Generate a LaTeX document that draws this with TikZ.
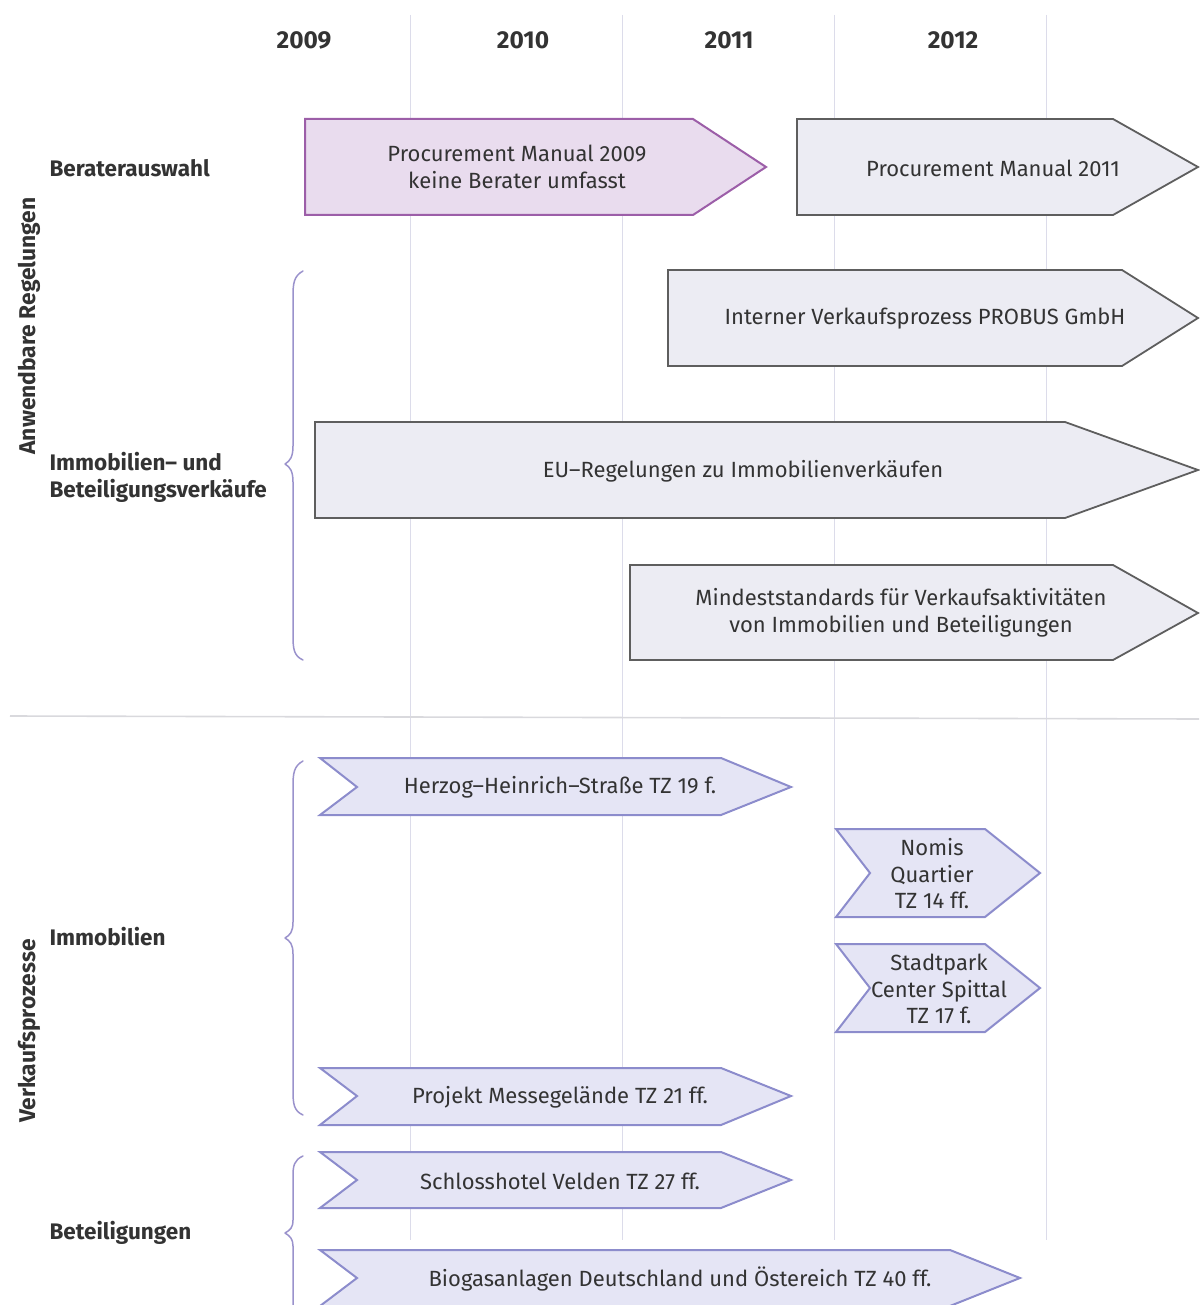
\documentclass[tikz,border=0pt]{standalone}
\usepackage{fontspec}
\setmainfont{Fira Sans}
\usetikzlibrary{calc}
\definecolor{txt}{HTML}{333333}
\definecolor{gridc}{HTML}{DCDCEA}
\definecolor{sepc}{HTML}{D9D9DD}
\definecolor{purfill}{HTML}{E9DCEE}
\definecolor{purdraw}{HTML}{9C5EA8}
\definecolor{grayfill}{HTML}{ECECF3}
\definecolor{graydraw}{HTML}{5E5E5E}
\definecolor{lavfill}{HTML}{E5E5F5}
\definecolor{lavdraw}{HTML}{8C8CCC}
\definecolor{bracec}{HTML}{9A92CC}
\tikzset{
  year/.style={font=\fontsize{24.5}{28}\selectfont\bfseries, text=txt},
  rowlab/.style={font=\fontsize{22.5}{27}\selectfont\bfseries, text=txt, anchor=west, align=left},
  grouplab/.style={font=\fontsize{22.8}{24}\selectfont\bfseries, text=txt, rotate=90},
  boxtxt/.style={font=\fontsize{22}{26.5}\selectfont, text=txt, align=center},
  purbox/.style={fill=purfill, draw=purdraw, line width=2pt, line join=miter},
  graybox/.style={fill=grayfill, draw=graydraw, line width=1.8pt, line join=miter},
  lavbox/.style={fill=lavfill, draw=lavdraw, line width=2pt, line join=miter},
  gridline/.style={draw=gridc, line width=1pt},
  bracel/.style={draw=bracec, line width=1.5pt, line cap=round, line join=round}
}
\begin{document}
\begin{tikzpicture}[x=1pt,y=-1pt]
\useasboundingbox (0,0) rectangle (1199,1305);
% grid lines
\coordinate (g1t) at (410,15); \coordinate (g1b) at (410,1240);
\coordinate (g2t) at (622,15); \coordinate (g2b) at (622,1240);
\coordinate (g3t) at (834,15); \coordinate (g3b) at (834,1240);
\coordinate (g4t) at (1046,15); \coordinate (g4b) at (1046,1240);
\draw[gridline] (g1t) -- (g1b);
\draw[gridline] (g2t) -- (g2b);
\draw[gridline] (g3t) -- (g3b);
\draw[gridline] (g4t) -- (g4b);
% separator
\coordinate (sepL) at (10,716); \coordinate (sepR) at (1199,719);
\draw[draw=sepc, line width=1.6pt] (sepL) -- (sepR);
% years
\node[year] (y2009) at (304,40) {2009};
\node[year] (y2010) at (523,40) {2010};
\node[year] (y2011) at (729,40) {2011};
\node[year] (y2012) at (953,40) {2012};
% group labels
\node[grouplab] (gA) at (29,326) {Anwendbare Regelungen};
\node[grouplab] (gV) at (29,1031) {Verkaufsprozesse};
% row labels
\node[rowlab] (rB) at (46,168) {Beraterauswahl};
\node[rowlab] (rI) at (46,477) {Immobilien– und\\Beteiligungsverkäufe};
\node[rowlab] (rIm) at (46,937) {Immobilien};
\node[rowlab] (rBe) at (46,1233) {Beteiligungen};
% braces
\draw[bracel] (303,271) .. controls (294,276) and (293,283) .. (293,296)
  -- (293,446) .. controls (293,457) and (290,461) .. (285,464)
  .. controls (290,467) and (293,471) .. (293,482)
  -- (293,636) .. controls (293,649) and (294,656) .. (303,660);
\draw[bracel] (303,761) .. controls (294,766) and (293,773) .. (293,786)
  -- (293,922) .. controls (293,932) and (290,935) .. (285,938)
  .. controls (290,941) and (293,944) .. (293,954)
  -- (293,1091) .. controls (293,1104) and (294,1111) .. (303,1115);
\draw[bracel] (303,1156) .. controls (294,1160) and (293,1166) .. (293,1176)
  -- (293,1220) .. controls (293,1228) and (290,1230) .. (285,1233)
  .. controls (290,1236) and (293,1239) .. (293,1246)
  -- (293,1305);
% upper arrows
\draw[purbox] (305,119) -- (693,119) -- (766,167) -- (693,215) -- (305,215) -- cycle;
\node[boxtxt] (a1) at (517,167) {Procurement Manual 2009\\keine Berater umfasst};
\draw[graybox] (797,119) -- (1113,119) -- (1198,167) -- (1113,215) -- (797,215) -- cycle;
\node[boxtxt] (a2) at (993,168) {Procurement Manual 2011};
\draw[graybox] (668,270) -- (1122,270) -- (1198,318) -- (1122,366) -- (668,366) -- cycle;
\node[boxtxt] (a3) at (925,319) {Interner Verkaufsprozess PROBUS GmbH};
\draw[graybox] (315,422) -- (1065,422) -- (1198,470) -- (1065,518) -- (315,518) -- cycle;
\node[boxtxt] (a4) at (743,471) {EU–Regelungen zu Immobilienverkäufen};
\draw[graybox] (630,565) -- (1113,565) -- (1198,613) -- (1113,660) -- (630,660) -- cycle;
\node[boxtxt] (a5) at (901,613) {Mindeststandards für Verkaufsaktivitäten\\von Immobilien und Beteiligungen};
% lower chevrons
\draw[lavbox] (320,758) -- (721,758) -- (791,787) -- (721,815) -- (320,815) -- (357,787) -- cycle;
\node[boxtxt] (c1) at (560,787) {Herzog–Heinrich–Straße TZ 19 f.};
\draw[lavbox] (836,829) -- (985,829) -- (1040,873) -- (985,917) -- (836,917) -- (870,873) -- cycle;
\node[boxtxt] (c2) at (932,874) {Nomis\\Quartier\\TZ 14 ff.};
\draw[lavbox] (836,944) -- (985,944) -- (1040,988) -- (985,1032) -- (836,1032) -- (870,988) -- cycle;
\node[boxtxt] (c3) at (939,989) {Stadtpark\\Center Spittal\\TZ 17 f.};
\draw[lavbox] (320,1068) -- (721,1068) -- (791,1096) -- (721,1125) -- (320,1125) -- (357,1096) -- cycle;
\node[boxtxt] (c4) at (560,1097) {Projekt Messegelände TZ 21 ff.};
\draw[lavbox] (320,1152) -- (721,1152) -- (791,1180) -- (721,1208) -- (320,1208) -- (357,1180) -- cycle;
\node[boxtxt] (c5) at (560,1181) {Schlosshotel Velden TZ 27 ff.};
\draw[lavbox] (320,1250) -- (950,1250) -- (1020,1278) -- (950,1306) -- (320,1306) -- (357,1278) -- cycle;
\node[boxtxt] (c6) at (680,1279) {Biogasanlagen Deutschland und Östereich TZ 40 ff.};
\end{tikzpicture}
\end{document}
